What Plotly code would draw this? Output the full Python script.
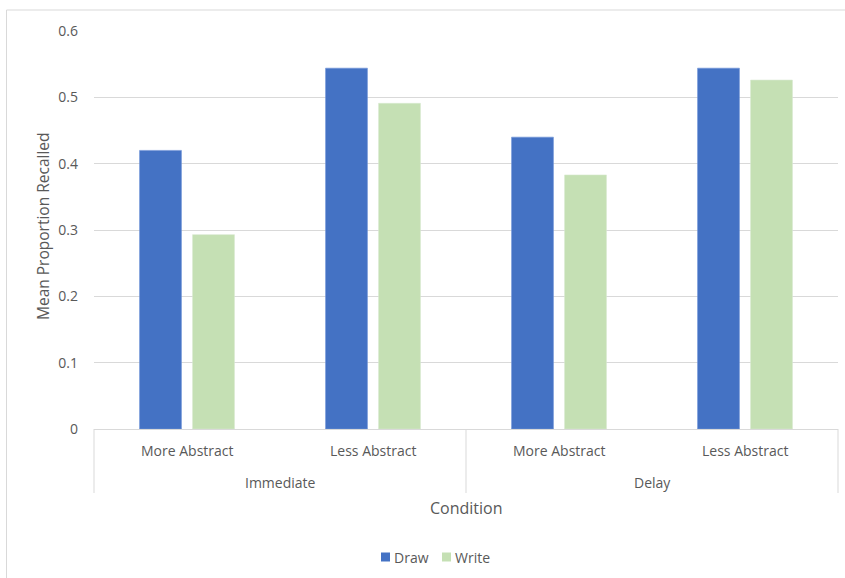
import plotly.graph_objects as go

# Recall data: timing group, abstraction level, and mean proportion per task
timing = ["Immediate", "Immediate", "Delay", "Delay"]
abstraction = ["More Abstract", "Less Abstract", "More Abstract", "Less Abstract"]
groups = ["Immediate", "Delay"]
series = ["Draw", "Write"]
draw_vals = [0.420, 0.544, 0.440, 0.544]
write_vals = [0.293, 0.491, 0.383, 0.526]
y_ticks = [0, 0.1, 0.2, 0.3, 0.4, 0.5, 0.6]
y_tick_text = ["0", "0.1", "0.2", "0.3", "0.4", "0.5", "0.6"]

W, H = 845, 578
L, R, T, B = 94, 7, 31, 149
pw, ph = W - L - R, H - T - B

def px(x):
    return (x - L) / pw

def py(y):
    return (H - B - y) / ph

FONT = "Open Sans"
GREY = "#595959"
LINE = "#d9d9d9"
COLORS = {"Draw": "#4472C4", "Write": "#C5E0B4"}
EDGES = {"Draw": "#6f93d6", "Write": "#d6ead0"}

fig = go.Figure()
for name, vals in zip(series, [draw_vals, write_vals]):
    fig.add_trace(go.Bar(
        name=name, x=[timing, abstraction], y=vals, showlegend=False,
        marker=dict(color=COLORS[name], line=dict(color=EDGES[name], width=0.6)),
    ))

# Two-level category labels placed under each bar pair / group
annotations = []
for i, lab in enumerate(abstraction):
    annotations.append(dict(text=lab, xref="x", yref="paper", x=i, y=py(451),
                            showarrow=False, font=dict(size=14, color=GREY),
                            xanchor="center", yanchor="middle"))
for j, g in enumerate(groups):
    annotations.append(dict(text=g, xref="x", yref="paper", x=2 * j + 0.5, y=py(482),
                            showarrow=False, font=dict(size=14, color=GREY),
                            xanchor="center", yanchor="middle"))
annotations += [
    dict(text="Condition", xref="paper", yref="paper", x=px(466), y=py(508),
         showarrow=False, font=dict(size=16, color=GREY),
         xanchor="center", yanchor="middle"),
    dict(text="Mean Proportion Recalled", xref="paper", yref="paper",
         x=px(43), y=py(226), textangle=-90, showarrow=False,
         font=dict(size=15.5, color=GREY), xanchor="center", yanchor="middle"),
]

# Group dividers below the axis and the outer chart frame
shapes = [
    dict(type="line", xref="paper", yref="paper", x0=xd, x1=xd, y0=0, y1=py(493),
         line=dict(color=LINE, width=1))
    for xd in (0, 0.5, 1)
]
shapes.append(dict(type="rect", xref="paper", yref="paper",
                   x0=px(6.5), x1=px(850), y0=py(585), y1=py(10),
                   line=dict(color=LINE, width=1), fillcolor="rgba(0,0,0,0)",
                   layer="below"))

# Compact legend: small colour key squares followed by the series names
legend_x = {"Draw": 381, "Write": 442}
for name in series:
    x0 = legend_x[name]
    shapes.append(dict(type="rect", xref="paper", yref="paper",
                       x0=px(x0), x1=px(x0 + 9), y0=py(561.5), y1=py(552.5),
                       line=dict(width=0), fillcolor=COLORS[name]))
    annotations.append(dict(text=name, xref="paper", yref="paper",
                            x=px(x0 + 11), y=py(557), showarrow=False,
                            font=dict(size=14, color=GREY),
                            xanchor="left", yanchor="middle"))

fig.update_layout(
    width=W, height=H,
    margin=dict(l=L, r=R, t=T, b=B),
    paper_bgcolor="white", plot_bgcolor="white",
    font=dict(family=FONT, size=14, color=GREY),
    barmode="group", bargap=0.43, bargroupgap=0.21,
    showlegend=False,
    xaxis=dict(
        type="multicategory", showgrid=False, showline=True,
        linecolor=LINE, linewidth=1, showdividers=False,
        showticklabels=False, ticks="",
    ),
    yaxis=dict(
        range=[0, 0.6], tickvals=y_ticks, ticktext=y_tick_text,
        showgrid=True, gridcolor=LINE, gridwidth=1,
        zeroline=False, showline=False, ticks="",
        ticklabelstandoff=15, tickfont=dict(size=14, color=GREY),
    ),
    annotations=annotations,
    shapes=shapes,
)

fig.write_html("out.html")
